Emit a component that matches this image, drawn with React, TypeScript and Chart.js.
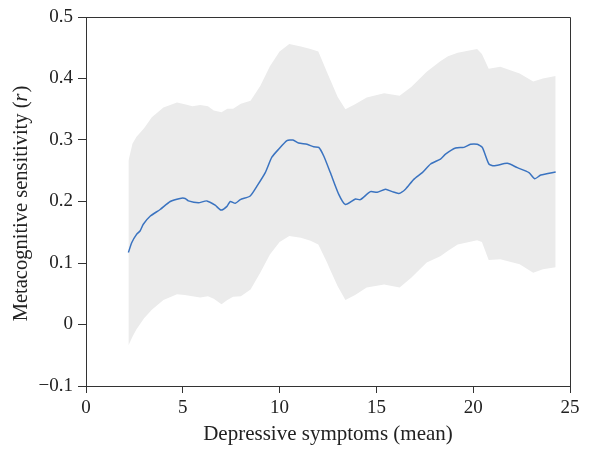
import React, { useEffect, useRef } from "react";
import { Chart, registerables } from "chart.js";

Chart.register(...registerables);

// Mean curve
const lineX = [2.19, 2.36, 2.62, 2.79, 2.96, 3.31, 3.83, 4.35, 4.86, 5.12, 5.29, 5.81, 6.24, 6.67, 6.97, 7.28, 7.45, 7.71, 7.97, 8.48, 8.83, 9.26, 9.6, 9.95, 10.38, 10.69, 10.98, 11.42, 11.76, 12.02, 12.28, 12.62, 13.05, 13.4, 13.92, 14.17, 14.69, 15.04, 15.47, 15.82, 16.16, 16.5, 16.93, 17.37, 17.8, 18.31, 18.57, 19.09, 19.52, 19.86, 20.21, 20.47, 20.81, 21.07, 21.76, 22.28, 22.88, 23.18, 23.49, 24.26];
const lineY = [0.117, 0.133, 0.147, 0.152, 0.163, 0.176, 0.187, 0.2, 0.205, 0.205, 0.201, 0.198, 0.201, 0.194, 0.186, 0.192, 0.2, 0.197, 0.203, 0.209, 0.225, 0.247, 0.272, 0.285, 0.299, 0.3, 0.295, 0.293, 0.289, 0.288, 0.274, 0.247, 0.212, 0.195, 0.204, 0.203, 0.216, 0.215, 0.22, 0.216, 0.213, 0.22, 0.236, 0.247, 0.261, 0.269, 0.277, 0.287, 0.288, 0.293, 0.293, 0.288, 0.261, 0.258, 0.262, 0.255, 0.247, 0.237, 0.243, 0.248];

// Confidence band
const bandX = [2.19, 2.4, 2.6, 3.0, 3.4, 4.0, 4.7, 5.1, 5.5, 5.9, 6.3, 6.6, 7.0, 7.3, 7.6, 8.0, 8.5, 9.0, 9.5, 10.0, 10.5, 11.1, 11.6, 12.0, 12.45, 12.6, 13.0, 13.4, 13.9, 14.5, 15.4, 16.2, 16.8, 17.6, 18.3, 18.7, 19.2, 20.2, 20.45, 20.8, 21.4, 22.4, 23.1, 23.6, 24.26];
const bandUpper = [0.266, 0.294, 0.305, 0.319, 0.337, 0.353, 0.361, 0.358, 0.355, 0.357, 0.355, 0.348, 0.345, 0.351, 0.351, 0.359, 0.364, 0.388, 0.42, 0.444, 0.456, 0.452, 0.448, 0.444, 0.41, 0.399, 0.37, 0.35, 0.358, 0.369, 0.376, 0.372, 0.386, 0.411, 0.428, 0.436, 0.442, 0.448, 0.44, 0.416, 0.419, 0.408, 0.395, 0.4, 0.404];
const bandLower = [-0.034, -0.02, -0.008, 0.01, 0.024, 0.04, 0.049, 0.048, 0.046, 0.044, 0.046, 0.042, 0.033, 0.04, 0.045, 0.046, 0.057, 0.084, 0.114, 0.134, 0.144, 0.141, 0.136, 0.13, 0.101, 0.09, 0.062, 0.04, 0.048, 0.06, 0.065, 0.06, 0.076, 0.101, 0.111, 0.12, 0.13, 0.137, 0.134, 0.105, 0.106, 0.098, 0.084, 0.09, 0.093];

const xTicks = [0, 5, 10, 15, 20, 25];
const yTicks = [-0.1, 0, 0.1, 0.2, 0.3, 0.4, 0.5];

const xTitle = "Depressive symptoms (mean)";
const yTitleParts = ["Metacognitive sensitivity (", "r", ")"];

const FONT = "'Liberation Serif', 'DejaVu Serif', serif";
const AXIS = "#333333";

const framePlugin = {
  id: "frame",
  afterDraw(chart: any) {
    const { ctx, chartArea } = chart;
    ctx.save();
    ctx.strokeStyle = AXIS;
    ctx.lineWidth = 1;
    ctx.beginPath();
    ctx.moveTo(chartArea.left, chartArea.top + 0.5);
    ctx.lineTo(chartArea.right + 0.5, chartArea.top + 0.5);
    ctx.lineTo(chartArea.right + 0.5, chartArea.bottom);
    ctx.stroke();

    // y title with italic r
    const size = 20.5;
    const normal = `${size}px ${FONT}`;
    const italic = `italic ${size}px ${FONT}`;
    ctx.font = normal;
    const w0 = ctx.measureText(yTitleParts[0]).width;
    const w2 = ctx.measureText(yTitleParts[2]).width;
    ctx.font = italic;
    const w1 = ctx.measureText(yTitleParts[1]).width;
    const total = w0 + w1 + w2 + 1;
    const cy = (chartArea.top + chartArea.bottom) / 2 + 2;
    ctx.translate(22, cy);
    ctx.rotate(-Math.PI / 2);
    ctx.fillStyle = "#222";
    ctx.textBaseline = "middle";
    ctx.textAlign = "left";
    let x = -total / 2;
    ctx.font = normal;
    ctx.fillText(yTitleParts[0], x, 0);
    x += w0;
    ctx.font = italic;
    ctx.fillText(yTitleParts[1], x, 0);
    x += w1 + 1;
    ctx.font = normal;
    ctx.fillText(yTitleParts[2], x, 0);
    ctx.restore();
  },
};

export default function App() {
  const ref = useRef<HTMLCanvasElement>(null);
  useEffect(() => {
    document.body.style.margin = "0";
    const chart = new Chart(ref.current!, {
      type: "line",
      data: {
        datasets: [
          {
            data: lineX.map((x, i) => ({ x, y: lineY[i] })),
            borderColor: "#3a73c0",
            borderWidth: 1.5,
            pointRadius: 0,
            fill: false,
            tension: 0.2,
          },
          {
            data: bandX.map((x, i) => ({ x, y: bandUpper[i] })),
            borderWidth: 0,
            borderColor: "rgba(0,0,0,0)",
            pointRadius: 0,
            fill: false,
          },
          {
            data: bandX.map((x, i) => ({ x, y: bandLower[i] })),
            borderWidth: 0,
            borderColor: "rgba(0,0,0,0)",
            backgroundColor: "#ebebeb",
            pointRadius: 0,
            fill: 1,
          },
        ],
      },
      options: {
        animation: false,
        responsive: false,
        layout: { padding: { top: 17, right: 19, left: 0, bottom: 0 } },
        plugins: { legend: { display: false }, tooltip: { enabled: false } },
        scales: {
          x: {
            type: "linear",
            min: 0,
            max: 25,
            afterBuildTicks: (s: any) => {
              s.ticks = xTicks.map((v) => ({ value: v }));
            },
            afterFit: (s: any) => {
              s.height = 65;
            },
            grid: { drawOnChartArea: false, drawTicks: true, tickLength: 7, color: AXIS },
            border: { color: AXIS, width: 1 },
            ticks: { color: "#222", font: { family: FONT, size: 19 }, padding: 4, maxRotation: 0 },
            title: { display: true, text: xTitle, color: "#222", font: { family: FONT, size: 21 }, padding: { top: 0, bottom: 4 } },
          },
          y: {
            type: "linear",
            min: -0.1,
            max: 0.5,
            afterBuildTicks: (s: any) => {
              s.ticks = yTicks.map((v) => ({ value: v }));
            },
            afterFit: (s: any) => {
              s.width = 86;
            },
            grid: { drawOnChartArea: false, drawTicks: true, tickLength: 8, color: AXIS },
            border: { color: AXIS, width: 1 },
            ticks: {
              color: "#222",
              font: { family: FONT, size: 19 },
              padding: 5,
              callback: (v: any) => {
                const n = Math.round(Number(v) * 10) / 10;
                if (n === 0) return "0";
                return n < 0 ? "\u2212" + Math.abs(n).toFixed(1) : n.toFixed(1);
              },
            },
          },
        },
      },
      plugins: [framePlugin],
    });
    return () => chart.destroy();
  }, []);
  return (
    <div style={{ width: 589, height: 451 }}>
      <canvas ref={ref} width={589} height={451} style={{ display: "block" }} />
    </div>
  );
}
